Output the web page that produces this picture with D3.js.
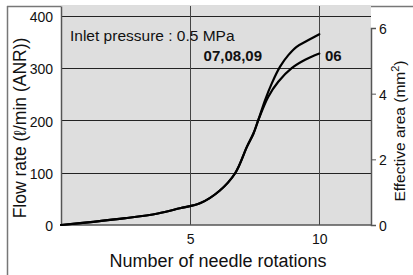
<!DOCTYPE html>
<meta charset="utf-8">
<style>
body { margin: 0; background: #fff; }
text { font-family: "Liberation Sans", Arial, sans-serif; fill: #111; }
.tick text { font-size: 14px; }
</style>
<svg width="413" height="275"></svg>
<script src="https://d3js.org/d3.v7.min.js"></script>
<script>

// rotations vs flow rate (l/min ANR)
let commonX = [0, 1.25, 2.5, 3.75, 4.6, 5.4, 6.15, 6.74, 7.2, 7.45, 7.64];
let commonY = [0, 6, 13, 22, 32, 42, 66, 99, 150, 175, 201];
let topX = [7.9, 8.16, 8.48, 8.8, 9.12, 9.51, 10];
let topY = [239, 271, 303, 325, 341, 352, 365];
let lowX = [8.02, 8.41, 8.93, 9.45, 10];
let lowY = [245, 274, 300, 316, 328];

let xTicks = [5, 10];
let yTicks = [0, 100, 200, 300, 400];
let areaTicks = [0, 2, 4, 6];

let svg = d3.select('svg');
let pLeft = 61, pRight = 371, pTop = 6, pBottom = 225;

let x = d3.scaleLinear().domain([0, 12]).range([pLeft, pRight]);
let y = d3.scaleLinear().domain([0, 419]).range([pBottom, pTop]);
let y2 = d3.scaleLinear().domain([0, 6]).range([pBottom, 28]);

// outer frame
svg.append('line').attr('x1', 7.5).attr('x2', 7.5).attr('y1', 6).attr('y2', 275)
  .attr('stroke', '#777').attr('stroke-width', 1.5);
svg.append('line').attr('x1', 7).attr('x2', 413).attr('y1', 6.5).attr('y2', 6.5)
  .attr('stroke', '#777').attr('stroke-width', 1.5);

// plot background
svg.append('rect')
  .attr('x', pLeft).attr('y', pTop)
  .attr('width', pRight - pLeft).attr('height', pBottom - pTop)
  .attr('fill', '#dedede');

// grid
svg.append('g').selectAll('line').data(yTicks.slice(1)).join('line')
  .attr('x1', pLeft).attr('x2', pRight)
  .attr('y1', d => Math.round(y(d)) + 0.5).attr('y2', d => Math.round(y(d)) + 0.5)
  .attr('stroke', '#222');
svg.append('g').selectAll('line').data(xTicks).join('line')
  .attr('y1', pTop).attr('y2', pBottom)
  .attr('x1', d => Math.round(x(d)) + 0.5).attr('x2', d => Math.round(x(d)) + 0.5)
  .attr('stroke', '#444');

// axes
let gx = svg.append('g').attr('transform', 'translate(0,' + pBottom + ')')
  .call(d3.axisBottom(x).tickValues(xTicks).tickSize(0).tickPadding(9));
let gy = svg.append('g').attr('transform', 'translate(' + pLeft + ',0)')
  .call(d3.axisLeft(y).tickValues(yTicks).tickSize(0).tickPadding(8));
let gy2 = svg.append('g').attr('transform', 'translate(' + pRight + ',0)')
  .call(d3.axisRight(y2).tickValues(areaTicks).tickFormat(d3.format('d'))
    .tickSize(5).tickPadding(3));
[gx, gy, gy2].forEach(g => {
  g.select('.domain').attr('stroke', '#555').attr('stroke-width', 1.5);
  g.selectAll('.tick line').attr('stroke', '#555');
});
gy.selectAll('.tick text').attr('dy', '0.4em');
gy2.selectAll('.tick text').attr('dy', '0.4em');
gx.select('.domain').attr('d', 'M' + pLeft + ',0H' + pRight);

// curves
let line = d3.line().x(d => x(d[0])).y(d => y(d[1])).curve(d3.curveCatmullRom.alpha(0.5));
let series = [
  d3.zip(commonX.concat(topX), commonY.concat(topY)),
  d3.zip(commonX.concat(lowX), commonY.concat(lowY))
];
svg.append('g').selectAll('path').data(series).join('path')
  .attr('d', line)
  .attr('fill', 'none').attr('stroke', '#000').attr('stroke-width', 2.2)
  .attr('stroke-linecap', 'round');

// labels
svg.append('text').attr('x', 70).attr('y', 41).attr('font-size', 15.5)
  .text('Inlet pressure : 0.5 MPa');
svg.append('text').attr('x', 262).attr('y', 61).attr('font-size', 15)
  .attr('font-weight', 'bold').attr('text-anchor', 'end').text('07,08,09');
svg.append('text').attr('x', 325).attr('y', 61).attr('font-size', 15)
  .attr('font-weight', 'bold').text('06');

svg.append('text').attr('x', 218).attr('y', 267)
  .attr('font-size', 18).attr('text-anchor', 'middle')
  .text('Number of needle rotations');

svg.append('text').attr('transform', 'translate(26,128) rotate(-90)')
  .attr('font-size', 17.5).attr('text-anchor', 'middle')
  .text('Flow rate (ℓ/min (ANR))');

let t2 = svg.append('text').attr('transform', 'translate(405,131) rotate(-90)')
  .attr('font-size', 15.5).attr('text-anchor', 'middle');
t2.append('tspan').text('Effective area (mm');
t2.append('tspan').attr('font-size', 11).attr('dy', -6).text('2');
t2.append('tspan').attr('dy', 6).text(')');

</script>
